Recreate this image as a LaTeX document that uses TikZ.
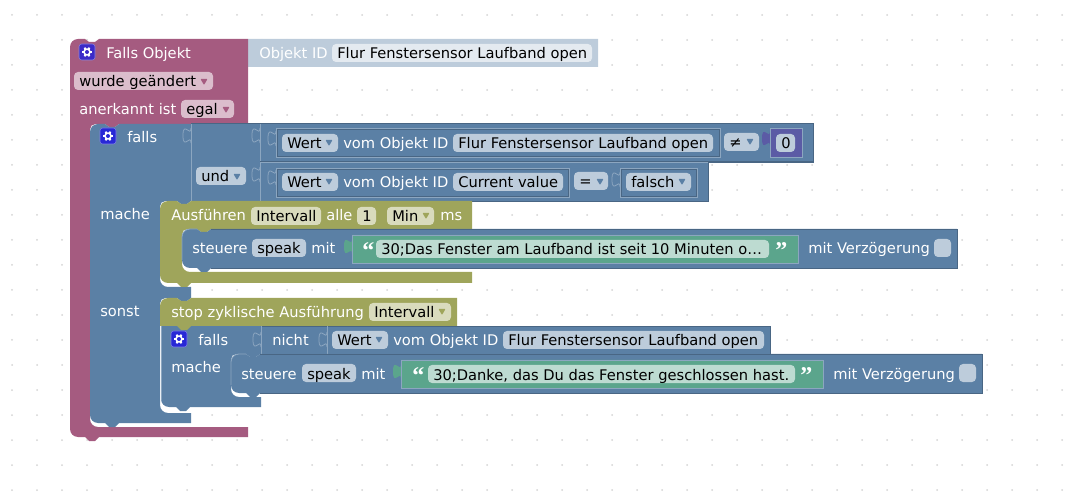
\documentclass[tikz,border=0pt]{standalone}
\usepackage{fontspec}
\setmainfont{DejaVu Sans}
\newfontfamily\quotefont{Liberation Serif}
\definecolor{pinkblock}{HTML}{A55B80}
\definecolor{pinkfield}{HTML}{DBBDCC}
\definecolor{blueblock}{HTML}{5B80A5}
\definecolor{blueedge}{HTML}{8CA6C0}
\definecolor{bluedark}{HTML}{496684}
\definecolor{bluefield}{HTML}{BDCCDB}
\definecolor{paleblock}{HTML}{BDCCDB}
\definecolor{palefield}{HTML}{E4EAF0}
\definecolor{oliveblock}{HTML}{9FA55B}
\definecolor{olivefield}{HTML}{D9DBBD}
\definecolor{greenblock}{HTML}{5BA58C}
\definecolor{greenfield}{HTML}{BDDBD1}
\definecolor{purpleblock}{HTML}{5B5BA5}
\definecolor{griddot}{HTML}{D4D4D4}
\definecolor{cogpink}{HTML}{3C2BC8}
\definecolor{cogblue}{HTML}{2828D6}
\tikzset{
  lab/.style={anchor=base west, inner sep=0pt, text=white, yshift=-0.75pt, font=\fontsize{11}{13}\selectfont},
  fieldtext/.style={lab, text=black},
  quotemark/.style={lab, font=\quotefont\bfseries\fontsize{18}{18}\selectfont},
  fld/.style={rounded corners=3pt},
  edge/.style={draw=blueedge, line width=0.6pt},
  darkedge/.style={draw=bluedark, line width=0.6pt}
}
\newcommand{\field}[6]{%
  \fill[fld, #2] (#3,#5) rectangle (#4,#5+18);
  \node[fieldtext] (#1) at (#3+5,#5+14) {#6};}
\newcommand{\drop}[3]{\fill[#3, rounded corners=0.5pt] (#1-3.5,#2-3) -- (#1+3.5,#2-3) -- (#1,#2+3) -- cycle;}
\newcommand{\tabpath}[2]{(#1,#2) .. controls (#1,#2+10) and (#1-8,#2-8) .. (#1-8,#2+7.5) .. controls (#1-8,#2+23) and (#1,#2+5) .. (#1,#2+15)}
\newcommand{\inset}[4]{%
  \draw[darkedge] (#1+1,#2+1) rectangle (#3-1,#4-1);
  \draw[edge] (#1,#2) rectangle (#3,#4);}
\newcommand{\cogicon}[3]{%
  \fill[#3, draw=#3!60!white, line width=0.4pt, rounded corners=2pt] (#1-8,#2-8) rectangle (#1+8,#2+8);
  \foreach \a in {0,60,...,300} \draw[white, line width=1.4pt] (#1,#2) -- ++(\a:5);
  \fill[white] (#1,#2) circle (3.8);
  \fill[#3] (#1,#2) circle (2);}
\begin{document}
\begin{tikzpicture}[x=0.75pt, y=-0.75pt]
  \useasboundingbox (0,0) rectangle (1082,495);

  \foreach \x in {12,37,...,1062}
    \foreach \y in {15,40,...,490}
      \fill[griddot] (\x,\y) circle (1);

  % Falls Objekt
  \fill[paleblock] \tabpath{248}{45} -- (248,39) -- (598,39) -- (598,67) -- (248,67) -- (248,60) -- cycle;
  \fill[pinkblock] (70,60) [rounded corners=6pt] -- (70,39) [sharp corners] -- (85,39) -- ++(4,3) -- ++(6,0) -- ++(4,-3)
    -- (248,39) -- (248,124) -- (119,124) -- ++(-4,3) -- ++(-6,0) -- ++(-4,-3) [rounded corners=4pt] -- (90,124) [rounded corners=6pt] -- (90,427) [sharp corners] -- (248,427) -- (248,437)
    -- (99,437) -- ++(-4,4) -- ++(-6,0) -- ++(-4,-4) [rounded corners=6pt] -- (70,437) [sharp corners] -- cycle;

  % falls
  \fill[blueblock] (90,140) [rounded corners=6pt] -- (90,124) [sharp corners] -- (105,124) -- ++(4,3) -- ++(6,0) -- ++(4,-3)
    -- (191,124) -- (191,201) -- ++(-4,3) -- ++(-6,0) -- ++(-4,-3) [rounded corners=4pt] -- (160,201) [rounded corners=6pt] -- (160,287) [sharp corners] -- (191,287) -- (191,298)
    -- ++(-4,3) -- ++(-6,0) -- ++(-4,-3) [rounded corners=4pt] -- (160,298) [rounded corners=6pt] -- (160,413) [sharp corners] -- (191,413) -- (191,423)
    -- (119,423) -- ++(-4,4) -- ++(-6,0) -- ++(-4,-4) [rounded corners=6pt] -- (90,423) [sharp corners] -- cycle;
  \fill[blueblock] (191,124) rectangle (260,201);
  \fill[blueblock] (260,124) rectangle (813,162);
  \fill[blueblock] (260,162) rectangle (708,201);
  \draw[darkedge] (191,123.5) -- (813,123.5) -- (813,162) -- (708,162) -- (708,201) -- (472,201);
  \draw[edge] (191,124) -- (191,201) (260,124) -- (260,201) (260,162.5) -- (708,162.5);
  \draw[darkedge] (260,161.5) -- (813,161.5);
  \draw[edge] \tabpath{191}{128};
  \draw[edge] \tabpath{260}{128};
  \draw[edge] \tabpath{260}{167};
  \draw[edge] \tabpath{276}{131};
  \draw[edge] \tabpath{276}{170};
  \draw[edge] \tabpath{620}{172};
  \inset{276}{128}{720}{157}
  \inset{276}{168}{569}{197}
  \inset{620}{168}{697}{197}
  \fill[purpleblock] \tabpath{770}{131} -- (770,128) -- (802,128) -- (802,157) -- (770,157) -- (770,146) -- cycle;
  \draw[edge] (770,128) rectangle (802,157);

  % Ausfuehren
  \fill[oliveblock] (160,215) [rounded corners=6pt] -- (160,201) [sharp corners] -- (177,201) -- ++(4,3) -- ++(6,0) -- ++(4,-3)
    -- (472,201) -- (472,229) -- (211,229) -- ++(-4,3) -- ++(-6,0) -- ++(-4,-3) [rounded corners=4pt] -- (182,229) [rounded corners=6pt] -- (182,272) [sharp corners] -- (472,272) -- (472,283)
    -- (191,283) -- ++(-4,4) -- ++(-6,0) -- ++(-4,-4) [rounded corners=6pt] -- (160,283) [sharp corners] -- cycle;
  \fill[blueblock] (182,240) [rounded corners=6pt] -- (182,229) [sharp corners] -- (197,229) -- ++(4,3) -- ++(6,0) -- ++(4,-3)
    -- (957,229) -- (957,268) -- (211,268) -- ++(-4,4) -- ++(-6,0) -- ++(-4,-4) [rounded corners=6pt] -- (182,268) [sharp corners] -- cycle;
  \draw[edge] (182,260) [rounded corners=6pt] -- (182,229) [sharp corners] -- (197,229);
  \draw[darkedge] (211,229) -- (957,229) -- (957,268) -- (211,268);
  \fill[greenblock] \tabpath{352}{239} -- (352,235) -- (798,235) -- (798,263) -- (352,263) -- (352,254) -- cycle;
  \draw[edge] (352,235) rectangle (798,263);

  % falls, second one
  \fill[blueblock] (161,326) -- (261,326) -- (261,354) -- (260,354) -- ++(-4,3) -- ++(-6,0) -- ++(-4,-3) [rounded corners=4pt] -- (231,354) [rounded corners=6pt] -- (231,397) [sharp corners] -- (261,397) -- (261,407)
    -- (190,407) -- ++(-4,4) -- ++(-6,0) -- ++(-4,-4) [rounded corners=6pt] -- (161,407) [sharp corners] -- cycle;
  \fill[blueblock] (261,326) rectangle (770,354);
  \draw[darkedge] (261,326) -- (770,326) -- (770,354) -- (982,354);
  \draw[edge] (161,326) -- (161,400);
  \draw[edge] (261,326) -- (261,354) (327,326) -- (327,354);
  \draw[edge] \tabpath{261}{332};
  \draw[edge] \tabpath{327}{332};
  \fill[blueblock] (231,365) [rounded corners=6pt] -- (231,354) [sharp corners] -- (246,354) -- ++(4,3) -- ++(6,0) -- ++(4,-3)
    -- (982,354) -- (982,393) -- (260,393) -- ++(-4,4) -- ++(-6,0) -- ++(-4,-4) [rounded corners=6pt] -- (231,393) [sharp corners] -- cycle;
  \draw[edge] (231,385) [rounded corners=6pt] -- (231,354) [sharp corners] -- (246,354);
  \draw[darkedge] (260,354) -- (982,354) -- (982,393) -- (260,393);
  \fill[greenblock] \tabpath{401}{364} -- (401,360) -- (823,360) -- (823,388) -- (401,388) -- (401,379) -- cycle;
  \draw[edge] (401,360) rectangle (823,388);

  % stop
  \fill[oliveblock] (160,312) [rounded corners=6pt] -- (160,298) [sharp corners] -- (177,298) -- ++(4,3) -- ++(6,0) -- ++(4,-3)
    -- (457,298) -- (457,326) -- (191,326) -- ++(-4,4) -- ++(-6,0) -- ++(-4,-4) -- (160,326) -- cycle;

  % texts and fields
  \cogicon{87}{52}{cogpink}
  \node[lab] (fallsobjekt) at (106,58) {Falls Objekt};
  \node[lab] (objektid) at (259,58) {Objekt ID};
  \field{flur}{palefield}{332}{592}{44}{Flur Fenstersensor Laufband open}
  \field{wurde}{pinkfield}{74}{213}{72}{wurde geändert}
  \drop{204}{82}{pinkblock}
  \node[lab] (anerkannt) at (79,114) {anerkannt ist};
  \field{egal}{pinkfield}{181}{234}{100}{egal}
  \drop{226}{110}{pinkblock}

  \cogicon{108}{136}{cogblue}
  \node[lab] (falls) at (127,142) {falls};
  \field{und}{bluefield}{196}{246}{167}{und}
  \drop{237}{177}{blueblock}
  \field{werta}{bluefield}{282}{338}{134}{Wert}
  \drop{329}{143}{blueblock}
  \node[lab] (voma) at (343,148) {vom Objekt ID};
  \field{flura}{bluefield}{453}{713}{134}{Flur Fenstersensor Laufband open}
  \field{neq}{bluefield}{724}{759}{133}{≠}
  \drop{750}{142}{blueblock}
  \field{null}{bluefield}{776}{795}{134}{0}
  \field{wertb}{bluefield}{282}{338}{173}{Wert}
  \drop{329}{182}{blueblock}
  \node[lab] (vomb) at (343,187) {vom Objekt ID};
  \field{current}{bluefield}{453}{563}{173}{Current value}
  \field{eq}{bluefield}{574}{608}{172}{=}
  \drop{600}{182}{blueblock}
  \field{falsch}{bluefield}{626}{691}{173}{falsch}
  \drop{682}{182}{blueblock}

  \node[lab] (machea) at (100,219) {mache};
  \node[lab] (ausf) at (171,220) {Ausführen};
  \field{intervalla}{olivefield}{251}{321}{207}{Intervall}
  \node[lab] (alle) at (326,220) {alle};
  \field{eins}{olivefield}{357}{376}{207}{1}
  \field{min}{olivefield}{387}{434}{207}{Min}
  \drop{426}{216}{oliveblock}
  \node[lab] (ms) at (440,220) {ms};

  \node[lab] (steuerea) at (192,253) {steuere};
  \field{speaka}{bluefield}{252}{306}{239}{speak}
  \node[lab] (mita) at (311,253) {mit};
  \node[quotemark] (opena) at (362,258) {“};
  \field{texta}{greenfield}{376}{769}{240}{30;Das Fenster am Laufband ist seit 10 Minuten o…}
  \node[quotemark] (closea) at (775,258) {”};
  \node[lab] (verza) at (808,253) {mit Verzögerung};
  \fill[fld, bluefield] (934,239) rectangle (951,257);

  \node[lab] (sonst) at (100,316) {sonst};
  \node[lab] (stop) at (171,317) {stop zyklische Ausführung};
  \field{intervallb}{olivefield}{369}{451}{303}{Intervall}
  \drop{442}{312}{oliveblock}

  \cogicon{179}{339}{cogblue}
  \node[lab] (fallsb) at (198,345) {falls};
  \node[lab] (nicht) at (272,345) {nicht};
  \field{wertc}{bluefield}{332}{388}{331}{Wert}
  \drop{379}{340}{blueblock}
  \node[lab] (vomc) at (393,345) {vom Objekt ID};
  \field{flurc}{bluefield}{503}{764}{331}{Flur Fenstersensor Laufband open}
  \node[lab] (macheb) at (171,372) {mache};

  \node[lab] (steuereb) at (241,378) {steuere};
  \field{speakb}{bluefield}{302}{356}{364}{speak}
  \node[lab] (mitb) at (361,378) {mit};
  \node[quotemark] (openb) at (412,382) {“};
  \field{textb}{greenfield}{428}{795}{365}{30;Danke, das Du das Fenster geschlossen hast.}
  \node[quotemark] (closeb) at (800,382) {”};
  \node[lab] (verzb) at (833,378) {mit Verzögerung};
  \fill[fld, bluefield] (959,364) rectangle (976,382);
\end{tikzpicture}
\end{document}
